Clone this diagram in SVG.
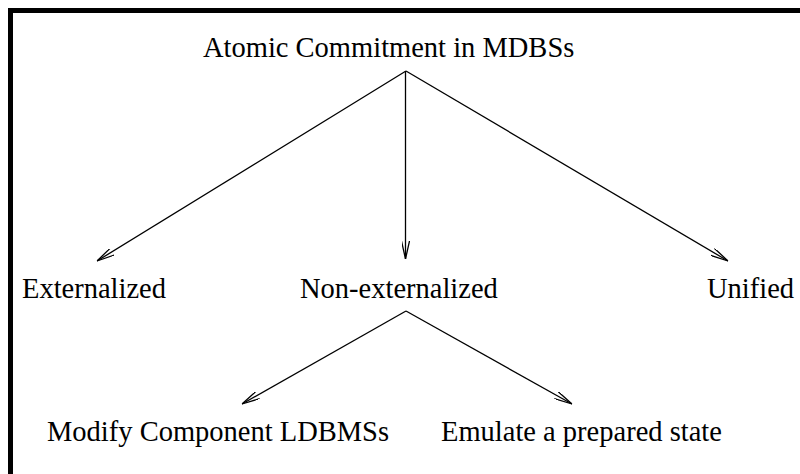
<svg xmlns="http://www.w3.org/2000/svg" width="800" height="474" viewBox="0 0 800 474">
<defs>
<marker id="ah" viewBox="0 0 18 8" refX="18" refY="4" markerWidth="18" markerHeight="8" markerUnits="userSpaceOnUse" orient="auto">
<path d="M0,0 L18,4 L0,8" fill="none" stroke="#000" stroke-width="1.3"/>
</marker>
</defs>
<rect x="0" y="0" width="800" height="474" fill="#fff"/>
<rect x="10.5" y="10.5" width="800" height="480" fill="none" stroke="#000" stroke-width="5"/>
<g id="connectors" stroke="#000" stroke-width="1.3" fill="none" marker-end="url(#ah)">
<line x1="406" y1="71" x2="97" y2="261"/>
<line x1="405.5" y1="71" x2="405.5" y2="259"/>
<line x1="406" y1="71" x2="728" y2="261"/>
<line x1="406" y1="311" x2="242" y2="404"/>
<line x1="406" y1="311" x2="572" y2="404"/>
</g>
<g id="root"><text x="203" y="57" font-size="28.5" font-family="Liberation Serif">Atomic Commitment in MDBSs</text></g>
<g id="externalized"><text x="22" y="298" font-size="28.5" font-family="Liberation Serif">Externalized</text></g>
<g id="nonexternalized"><text x="300" y="298" font-size="28.5" font-family="Liberation Serif">Non-externalized</text></g>
<g id="unified"><text x="707" y="298" font-size="28.5" font-family="Liberation Serif">Unified</text></g>
<g id="modify"><text x="47" y="441" font-size="28.5" font-family="Liberation Serif">Modify Component LDBMSs</text></g>
<g id="emulate"><text x="441" y="441" font-size="28.5" font-family="Liberation Serif">Emulate a prepared state</text></g>
</svg>
